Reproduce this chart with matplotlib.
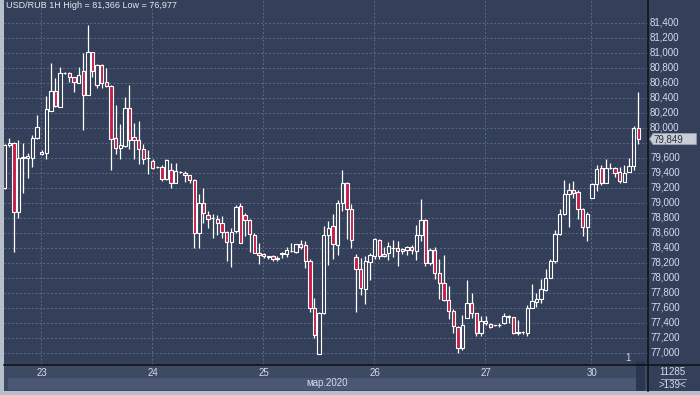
import matplotlib
matplotlib.use("Agg")
import matplotlib.pyplot as plt
from matplotlib.patches import Rectangle, Polygon
from matplotlib.lines import Line2D
import matplotlib.transforms as mtrans

plt.rcParams['font.family'] = ['Liberation Sans', 'DejaVu Sans']

# ---- data (USD/RUB hourly candles) ----
opens = [
79191, 79765, 79800, 78880, 79591, 79600, 79600, 79858, 79680, 79667,
80227, 80489, 80280, 80724, 80724, 80671, 80600, 80756, 80431, 81004,
80569, 80836, 80609, 80556, 79858, 79733, 79756, 80267, 79880, 79831,
79711, 79596, 79556, 79476, 79480, 79311, 79436, 79267, 79409, 79400,
79364, 79298, 78600, 78991, 78831, 78800, 78787, 78733, 78609, 78476,
78622, 78956, 78840, 78769, 78573, 78329, 78316, 78289, 78289, 78244,
78316, 78316, 78360, 78342, 78444, 78431, 78222, 77600, 76982, 77524,
78573, 78689, 78440, 78991, 79267, 78920, 78280, 78120, 77853, 78209,
78289, 78498, 78320, 78324, 78400, 78400, 78387, 78369, 78409, 78351,
78564, 78764, 78191, 78369, 78067, 77933, 77702, 77556, 77347, 77058,
77467, 77667, 77524, 77267, 77391, 77382, 77364, 77369, 77391, 77489,
77471, 77280, 77276, 77267, 77600, 77676, 77711, 77836, 78000, 78222,
78582, 78845, 79111, 79169, 79147, 78911, 78671, 79067, 79244, 79458,
79267, 79458, 79458, 79413, 79280, 79413, 79489, 79991]

highs = [
79780, 79858, 79810, 79836, 79791, 79667, 79902, 80169, 79700, 80422,
80858, 80658, 80813, 80747, 80747, 80680, 80813, 81000, 81366, 81010,
80845, 80845, 80791, 80565, 80298, 80044, 80413, 80564, 80058, 80089,
79778, 79702, 79578, 79485, 79498, 79587, 79524, 79524, 79418, 79418,
79375, 79311, 79111, 79200, 78889, 78844, 78831, 78822, 78620, 78667,
78964, 79000, 78858, 78780, 78600, 78467, 78325, 78295, 78298, 78289,
78340, 78413, 78458, 78452, 78502, 78489, 78253, 77733, 77542, 78689,
78756, 78844, 79036, 79436, 79276, 78978, 78311, 78267, 78289, 78333,
78533, 78511, 78413, 78476, 78502, 78484, 78396, 78422, 78431, 78698,
79044, 78778, 78400, 78413, 78244, 78298, 77889, 77578, 77356, 77498,
77964, 77791, 77533, 77489, 77489, 77391, 77373, 77391, 77524, 77498,
77480, 77436, 77290, 77631, 77911, 77791, 77987, 78111, 78244, 78636,
78911, 79302, 79258, 79293, 79169, 78925, 78880, 79258, 79502, 79502,
79578, 79524, 79471, 79471, 79502, 79591, 80022, 80480]

lows = [
79180, 79740, 78347, 78800, 79133, 79325, 79471, 79850, 79630, 79578,
80220, 80271, 80271, 80715, 80613, 80480, 80591, 79969, 80431, 80680,
80524, 80524, 80547, 79436, 79645, 79578, 79747, 79720, 79587, 79511,
79511, 79378, 79444, 79462, 79289, 79300, 79200, 79258, 79400, 79276,
79258, 78400, 78400, 78733, 78667, 78533, 78564, 78533, 78222, 78147,
78600, 78460, 78556, 78342, 78325, 78178, 78267, 78253, 78227, 78222,
78262, 78280, 78342, 78333, 78378, 78133, 77542, 77200, 76977, 77515,
78164, 78244, 78298, 78889, 78511, 78400, 77542, 77764, 77644, 77969,
78244, 78244, 78280, 78231, 78280, 78156, 78311, 78302, 78311, 78240,
78489, 78156, 78164, 77987, 77711, 77690, 77444, 77267, 77000, 77036,
77460, 77467, 77222, 77222, 77364, 77329, 77355, 77347, 77385, 77391,
77244, 77231, 77250, 77222, 77590, 77613, 77667, 77825, 77990, 78200,
78575, 78835, 78680, 79058, 78778, 78556, 78493, 79060, 79160, 79236,
79260, 79445, 79338, 79258, 79275, 79405, 79436, 79782]

closes = [
79769, 79791, 78880, 79591, 79613, 79622, 79858, 80004, 79649, 80245,
80489, 80293, 80724, 80733, 80671, 80604, 80698, 80431, 81004, 80756,
80836, 80591, 80556, 79844, 79733, 79764, 80267, 79831, 79831, 79711,
79587, 79596, 79467, 79471, 79311, 79564, 79258, 79422, 79409, 79364,
79302, 78600, 78991, 78867, 78778, 78800, 78733, 78609, 78476, 78609,
78947, 78467, 78769, 78578, 78333, 78302, 78289, 78280, 78244, 78267,
78333, 78369, 78360, 78444, 78413, 78222, 77600, 77236, 77533, 78573,
78667, 78444, 78991, 79267, 78920, 78498, 78120, 77867, 78218, 78298,
78511, 78289, 78289, 78422, 78400, 78356, 78360, 78413, 78373, 78564,
78764, 78200, 78369, 78067, 77933, 77702, 77556, 77356, 77067, 77364,
77667, 77524, 77267, 77422, 77418, 77347, 77364, 77369, 77489, 77471,
77267, 77267, 77276, 77600, 77689, 77720, 77844, 78000, 78222, 78582,
78845, 79111, 79169, 79124, 78911, 78671, 78849, 79244, 79444, 79258,
79458, 79458, 79400, 79289, 79400, 79489, 79991, 79849]

day_labels = ['23', '24', '25', '26', '27', '30']
day_index = [8, 32, 56, 80, 104, 127]
price_ticks = list(range(77000, 81401, 200))
last_price = 79849
title = "USD/RUB 1H High = 81,366 Low = 76,977"
month_label = "мар.2020"

# ---- styling ----
W, H = 700, 395
BG = '#344059'
RED = '#c41f48'
GRID = '#5b6a87'
TXT = '#d3ddeb'

fig = plt.figure(figsize=(W / 100, H / 100), dpi=100)
fig.patch.set_facecolor('#b7bfcb')

def fr(x0, y0, x1, y1):
    return [x0 / W, 1 - y1 / H, (x1 - x0) / W, (y1 - y0) / H]

ax = fig.add_axes(fr(4, 0, 648, 364))
ax.set_facecolor(BG)
for s in ax.spines.values():
    s.set_visible(False)
ax.set_xticks([]); ax.set_yticks([])
ax.set_xlim(-0.13, 139.11)
ylo, yhi = 76849, 81703
ax.set_ylim(ylo, yhi)

# grid
ax.hlines(price_ticks, -1, 140, colors=GRID, linestyles=(0, (2, 2)), linewidth=0.7, zorder=0)
ax.vlines([i - 0.2 for i in day_index], ylo, yhi, colors=GRID, linestyles=(0, (2, 2)), linewidth=0.7, zorder=0)

# candles
n = len(opens)
xs = list(range(n))
ax.vlines(xs, lows, highs, colors='white', linewidth=0.9, zorder=2)
for i in range(n):
    o, c = opens[i], closes[i]
    up = c >= o
    bottom = min(o, c)
    height = max(abs(c - o), 1)
    ax.add_patch(Rectangle((i - 0.36, bottom), 0.72, height,
                           facecolor=BG if up else RED, edgecolor='white',
                           linewidth=0.8, zorder=3))

# right price panel
axr = fig.add_axes(fr(648, 0, 700, 364))
axr.set_facecolor(BG)
for s in axr.spines.values():
    s.set_visible(False)
axr.set_xticks([]); axr.set_yticks([])
axr.set_xlim(0, 1)
axr.set_ylim(ylo, yhi)
tr = mtrans.blended_transform_factory(axr.transAxes, axr.transData)
for p in price_ticks:
    if abs(p - last_price) < 100:
        continue  # hidden behind the last-price marker
    axr.text(0.04, p, f"{p:,}", transform=tr, ha='left', va='center',
             color=TXT, fontsize=7)
hh = 5.5 * (yhi - ylo) / 364
axr.add_patch(Polygon([(0.03, last_price), (0.10, last_price + hh), (0.93, last_price + hh),
                       (0.93, last_price - hh), (0.10, last_price - hh)],
                      closed=True, transform=tr, facecolor='#c9ced6', edgecolor='#9aa3b0',
                      linewidth=0.6, zorder=4))
axr.text(0.10, last_price, f"{last_price:,}", transform=tr, ha='left', va='center',
         color='#2a3040', fontsize=7, zorder=5)

# bottom time panel
axb = fig.add_axes(fr(4, 364, 700, 391))
axb.set_facecolor('#3e4a64')
for s in axb.spines.values():
    s.set_visible(False)
axb.set_xticks([]); axb.set_yticks([])
fig.add_artist(Rectangle((8 / W, 1 - 390 / H), (636 - 8) / W, 12 / H,
                         transform=fig.transFigure, facecolor='#4a5775', edgecolor='none'))
fig.add_artist(Rectangle((636 / W, 1 - 391 / H), 9 / W, 30 / H,
                         transform=fig.transFigure, facecolor='#2b3650', edgecolor='none'))
fig.add_artist(Rectangle((648 / W, 1 - 391 / H), 52 / W, 27 / H,
                         transform=fig.transFigure, facecolor='#34405a', edgecolor='none'))

tb = mtrans.blended_transform_factory(ax.transData, fig.transFigure)
for lab, idx in zip(day_labels, day_index):
    fig.text(idx, 1 - 372.5 / H, lab, transform=tb, ha='center', va='center',
             color=TXT, fontsize=7)
fig.text(327 / W, 1 - 383.5 / H, month_label, ha='center', va='center', color=TXT, fontsize=7)
fig.text(672 / W, 1 - 372 / H, '11285', ha='center', va='center', color=TXT, fontsize=7)
fig.add_artist(Line2D([661 / W, 686 / W], [1 - 378.5 / H] * 2, transform=fig.transFigure,
                      color='#9aa6ba', linewidth=0.7))
fig.text(672 / W, 1 - 384.5 / H, '>139<', ha='center', va='center', color=TXT, fontsize=7)
fig.text(628 / W, 1 - 358 / H, '1', ha='center', va='center', color='#c8d0dc', fontsize=7)

# title
fig.text(6 / W, 1 - 1.5 / H, title, ha='left', va='top', color='#e2e8f0', fontsize=6.5)

# separators
fig.add_artist(Line2D([648 / W, 648 / W], [1 - 391 / H, 1], transform=fig.transFigure,
                      color='#0c0f16', linewidth=1.1))
fig.add_artist(Line2D([4 / W, 1], [1 - 364.5 / H] * 2, transform=fig.transFigure,
                      color='#0c0f16', linewidth=1.1))

fig.savefig('out.png', dpi=100, facecolor=fig.get_facecolor())
